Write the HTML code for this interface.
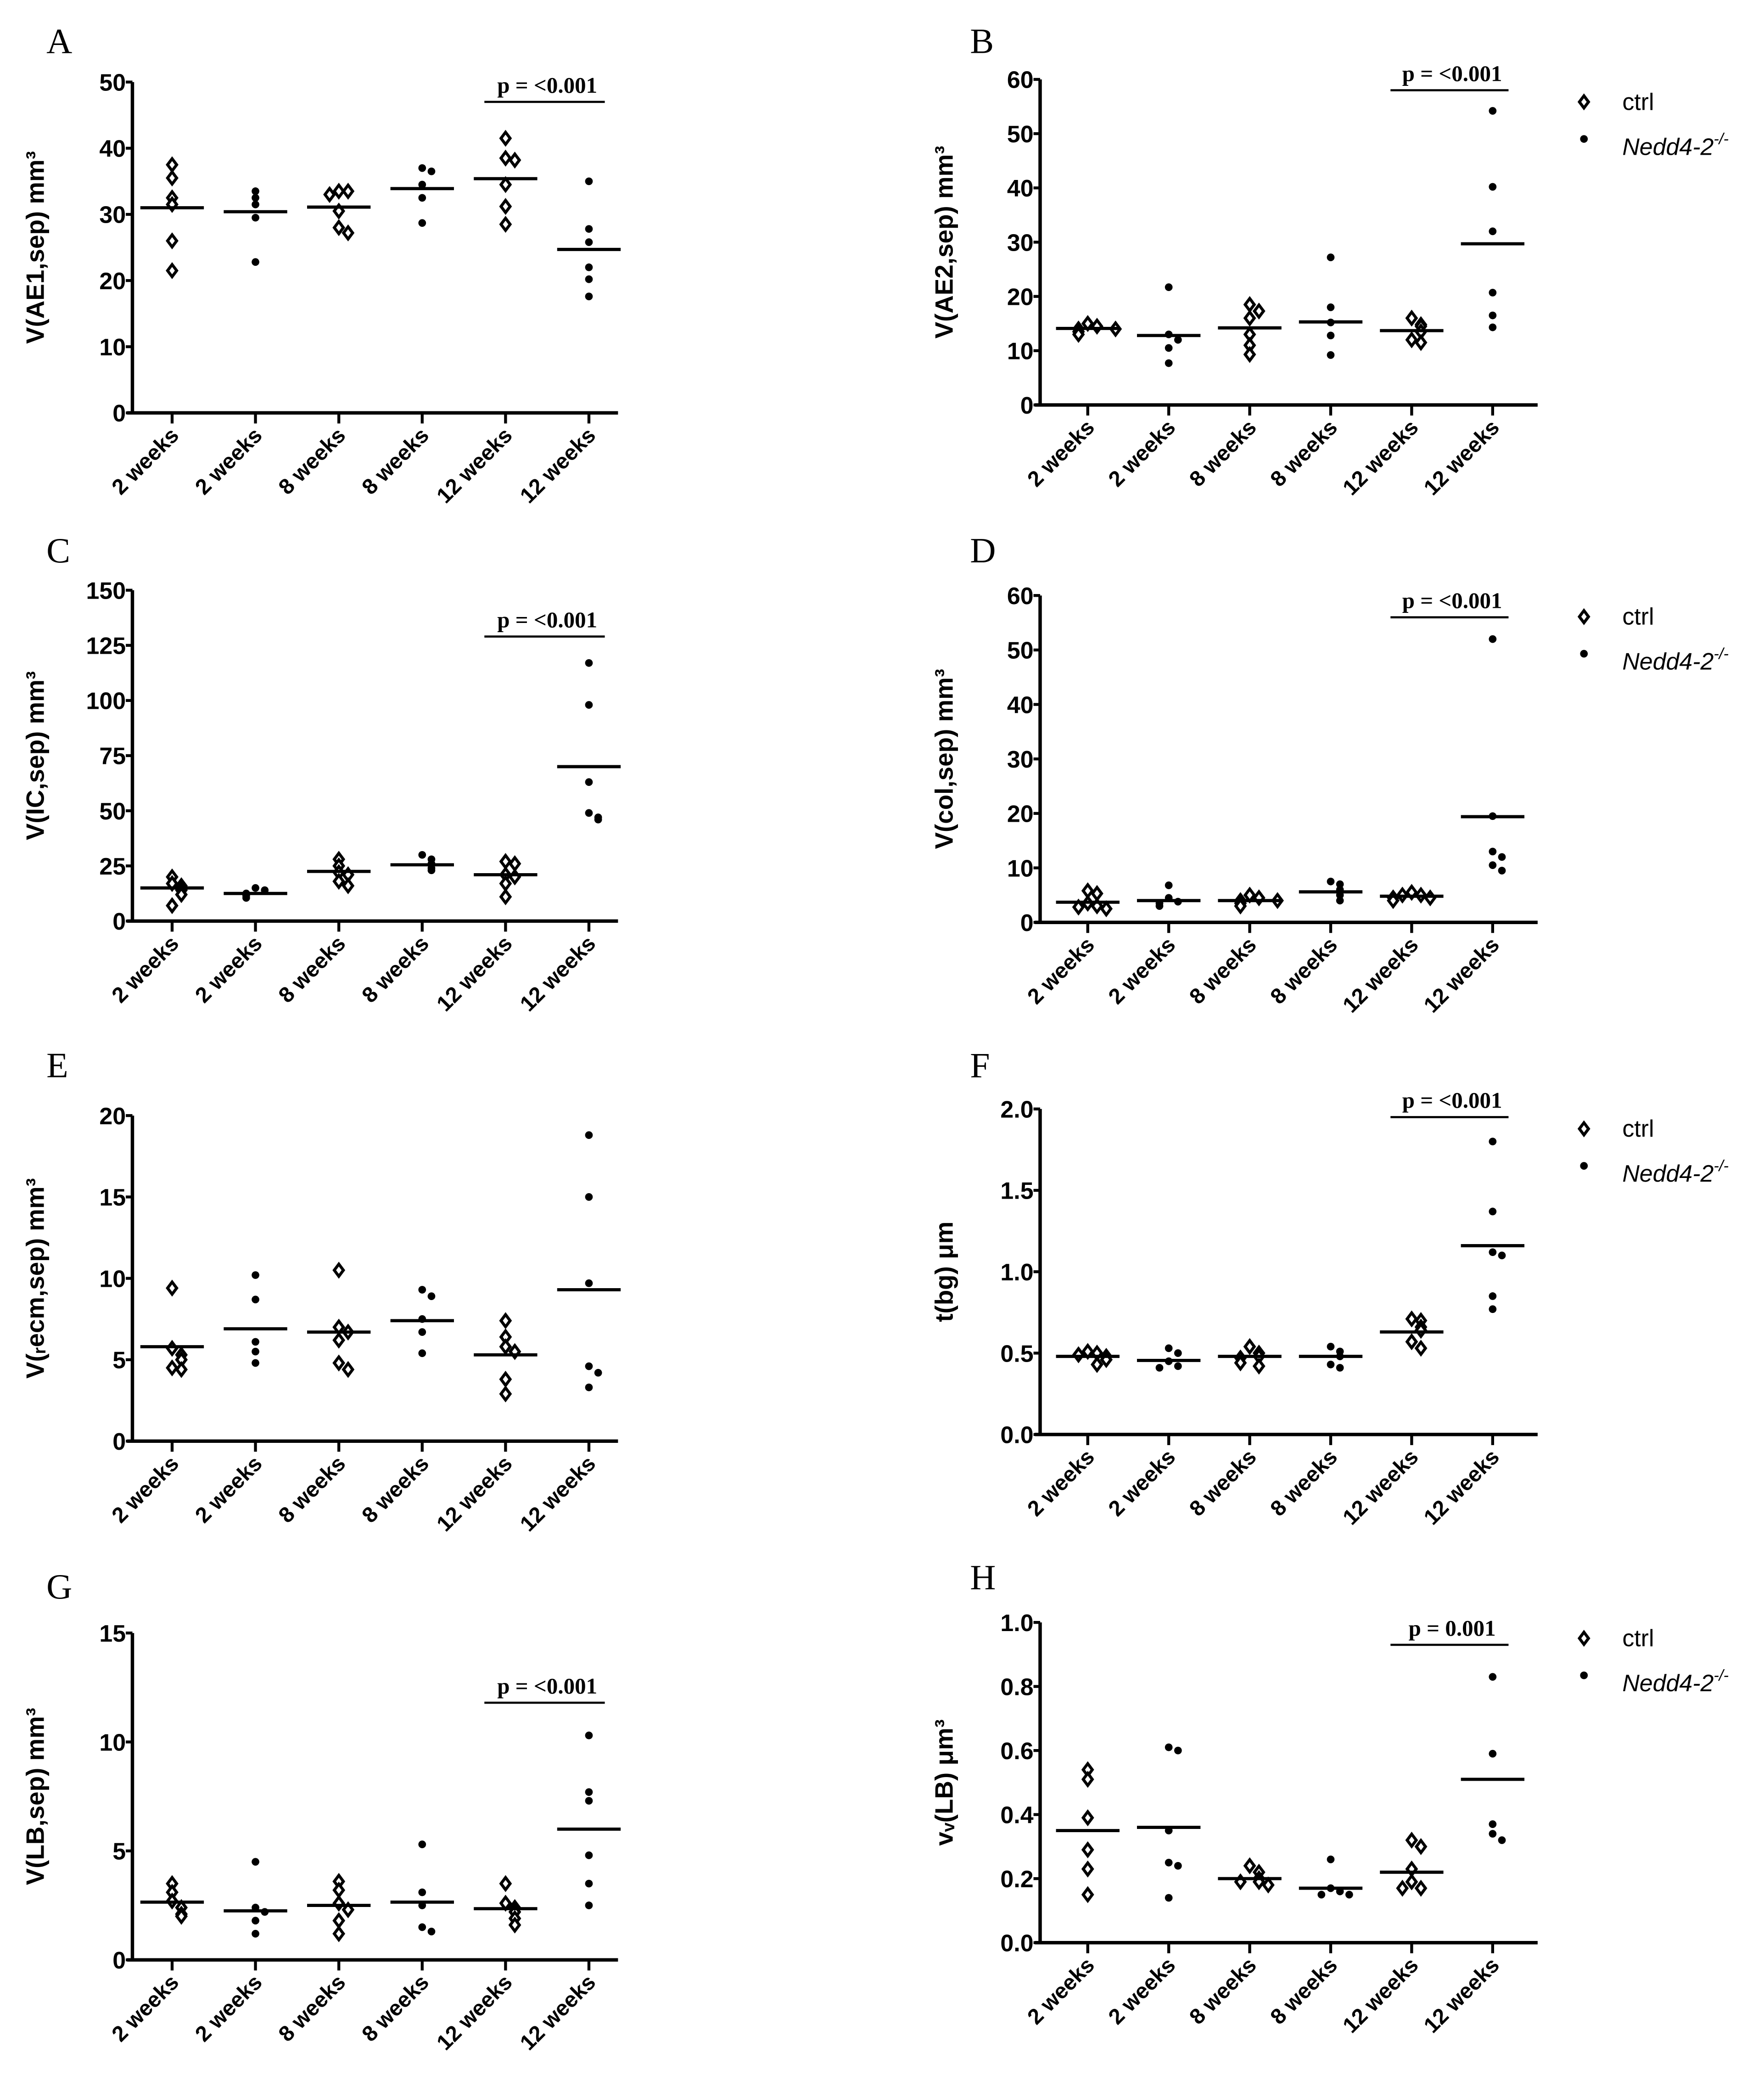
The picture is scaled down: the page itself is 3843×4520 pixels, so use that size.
<!DOCTYPE html>
<html><head><meta charset="utf-8"><style>
html,body{margin:0;padding:0;background:#fff}
svg{display:block}
.tick{font-family:"Liberation Sans Narrow","Liberation Sans",sans-serif;font-weight:bold;font-size:18px}
.xl{font-family:"Liberation Sans",sans-serif;font-weight:bold;font-size:16.5px}
.yt{font-family:"Liberation Sans",sans-serif;font-weight:bold;font-size:19px}
.pl{font-family:"Liberation Serif",serif;font-size:27px}
.pv{font-family:"Liberation Serif",serif;font-weight:bold;font-size:17px}
.lg{font-family:"Liberation Sans",sans-serif;font-size:18px}
</style></head><body>
<svg id="fig" width="3843" height="4520" viewBox="0 0 1333 1568" xmlns="http://www.w3.org/2000/svg"></svg>
<script>
const categories = ["2 weeks","2 weeks","8 weeks","8 weeks","12 weeks","12 weeks"];
const groups = ["ctrl","nedd","ctrl","nedd","ctrl","nedd"];
const panelLetters = ["A","B","C","D","E","F","G","H"];
const yTitles = ["V(AE1,sep) mm³","V(AE2,sep) mm³","V(IC,sep) mm³","V(col,sep) mm³","V(ᵣecm,sep) mm³","t(bg) μm","V(LB,sep) mm³","vᵥ(LB) μm³"];
const yMax = [50,60,150,60,20,2.0,15,1.0];
const yStep = [10,10,25,10,5,0.5,5,0.2];
const yDecimals = [0,0,0,0,0,1,0,1];
const pTexts = ["p = <0.001","p = <0.001","p = <0.001","p = <0.001",null,"p = <0.001","p = <0.001","p = 0.001"];
const pLevel = [47,58,129,56,null,1.95,11.8,0.93];
const valuesA = [[37.5,35.5,32.5,31.5,26,21.5],[33.5,32.5,31.5,29.5,22.8],[33.5,33.5,33,30.5,28,27.2],[37,36.5,34.5,32.5,28.7],[41.5,38.5,38.2,34.5,31.2,28.5],[35,27.8,25.8,22,20.2,17.6]];
const meansA = [31,30.4,31.1,33.9,35.4,24.7];
const valuesB = [[15,14.5,14,13.5,13,14],[21.7,13,12,10.5,7.7],[18.5,17.3,16,13,11,9.3],[27.2,18,15.2,12.8,9.2],[16,14.8,14.5,13.5,12,11.5],[54.2,40.2,32,20.7,16.5,14.3]];
const meansB = [14.1,12.8,14.2,15.3,13.7,29.7];
const valuesC = [[20,17,16,14,12,7],[15,14,12.5,11.5,10.5],[28,25,22,21,18,16],[30,28,26,24,23],[27,26,21,20,17,11],[117,98,63,49,47,46]];
const meansC = [15,12.5,22.5,25.5,21,70];
const valuesD = [[5.8,5.3,3.5,3,2.8,2.5],[6.8,4.5,3.8,3.5,3],[5,4.5,4,3.5,3,4],[7.5,7,6,5,4],[5.5,5,5,4.5,4.5,4],[52,19.5,13,12,10.5,9.5]];
const meansD = [3.7,4,4,5.6,4.8,19.4];
const valuesE = [[9.4,5.7,5.3,5,4.5,4.4],[10.2,8.7,6.1,5.5,4.8],[10.5,7,6.7,6.2,4.8,4.4],[9.3,8.9,7.5,6.7,5.4],[7.4,6.4,5.8,5.5,3.8,2.9],[18.8,15,9.7,4.6,4.2,3.3]];
const meansE = [5.8,6.9,6.7,7.4,5.3,9.3];
const valuesF = [[0.51,0.50,0.49,0.48,0.46,0.43],[0.53,0.50,0.45,0.42,0.41],[0.54,0.50,0.48,0.47,0.44,0.42],[0.54,0.51,0.48,0.43,0.41],[0.71,0.70,0.66,0.64,0.57,0.53],[1.80,1.37,1.12,1.10,0.85,0.77]];
const meansF = [0.48,0.455,0.48,0.48,0.63,1.16];
const valuesG = [[3.5,3.1,2.7,2.4,2.1,2.0],[4.5,2.4,2.2,1.8,1.2],[3.6,3.2,2.6,2.3,1.8,1.2],[5.3,3.1,2.5,1.5,1.3],[3.5,2.6,2.4,2.2,1.9,1.6],[10.3,7.7,7.3,4.8,3.5,2.5]];
const meansG = [2.65,2.25,2.5,2.65,2.35,6.0];
const valuesH = [[0.54,0.51,0.39,0.29,0.23,0.15],[0.61,0.60,0.35,0.25,0.24,0.14],[0.24,0.22,0.20,0.19,0.19,0.18],[0.26,0.17,0.16,0.15,0.15],[0.32,0.30,0.23,0.19,0.17,0.17],[0.83,0.59,0.37,0.34,0.32]];
const meansH = [0.35,0.36,0.2,0.17,0.22,0.51];
const allValues=[valuesA,valuesB,valuesC,valuesD,valuesE,valuesF,valuesG,valuesH];
const allMeans=[meansA,meansB,meansC,meansD,meansE,meansF,meansG,meansH];

const frames=[
 {ax:100,top:62,bot:312,right:467,c0:130,dc:63,lx:35,ly:40,tx:33,legend:null},
 {ax:786,top:60,bot:306,right:1162,c0:822,dc:61.2,lx:733,ly:40,tx:720,legend:77},
 {ax:100,top:446,bot:696,right:467,c0:130,dc:63,lx:35,ly:425,tx:33,legend:null},
 {ax:786,top:450,bot:697,right:1162,c0:822,dc:61.2,lx:733,ly:425,tx:720,legend:466},
 {ax:100,top:843,bot:1089,right:467,c0:130,dc:63,lx:35,ly:814,tx:33,legend:null},
 {ax:786,top:838,bot:1084,right:1162,c0:822,dc:61.2,lx:733,ly:814,tx:720,legend:853},
 {ax:100,top:1234,bot:1481,right:467,c0:130,dc:63,lx:35,ly:1208,tx:33,legend:null},
 {ax:786,top:1226,bot:1468,right:1162,c0:822,dc:61.2,lx:733,ly:1201,tx:720,legend:1238}
];
const NS="http://www.w3.org/2000/svg";
const svg=document.getElementById('fig');
function mk(tag,attrs,parent){const e=document.createElementNS(NS,tag);for(const k in attrs)e.setAttribute(k,attrs[k]);(parent||svg).appendChild(e);return e;}
function diamond(g,x,y){const r=4.6;return mk('path',{d:`M${x},${y-r}L${x+r*0.75},${y}L${x},${y+r}L${x-r*0.75},${y}Z`,fill:'#fff',stroke:'#000','stroke-width':2.2},g);}
function dot(g,x,y){return mk('circle',{cx:x,cy:y,r:2.9,fill:'#000'},g);}

frames.forEach((f,p)=>{
 const g=mk('g',{});
 
 
 const ys=v=>f.bot-(v/yMax[p])*(f.bot-f.top);
 const xs=i=>f.c0+i*f.dc;
 const L=mk('text',{x:f.lx,y:f.ly,'class':'pl'},g);L.textContent=panelLetters[p];
 
 
 const ya=mk('line',{x1:f.ax,y1:f.top,x2:f.ax,y2:f.bot+1,stroke:'#000','stroke-width':2.6},g);
 
 
 const xa=mk('line',{x1:f.ax-4,y1:f.bot,x2:f.right,y2:f.bot,stroke:'#000','stroke-width':2.6},g);
 
 
 const n=Math.round(yMax[p]/yStep[p]);
 for(let k=0;k<=n;k++){const v=k*yStep[p],y=ys(v);
  mk('line',{x1:f.ax-5,y1:y,x2:f.ax,y2:y,stroke:'#000','stroke-width':2.2},g);
  const t=mk('text',{x:f.ax-5,y:y+6.5,'text-anchor':'end','class':'tick'},g);t.textContent=v.toFixed(yDecimals[p]);
  
  }
 categories.forEach((c,i)=>{const x=xs(i);
  mk('line',{x1:x,y1:f.bot,x2:x,y2:f.bot+8,stroke:'#000','stroke-width':2.2},g);
  const t=mk('text',{x:x+6,y:f.bot+18,'text-anchor':'end','class':'xl',transform:`rotate(-45 ${x+6} ${f.bot+18})`},g);t.textContent=c;
  
  });
 const cy=(f.top+f.bot)/2;
 const yt=mk('text',{x:f.tx,y:cy,'text-anchor':'middle','class':'yt',transform:`rotate(-90 ${f.tx} ${cy})`},g);yt.textContent=yTitles[p];
 
 
 allValues[p].forEach((col,i)=>{
  const placed=[];
  col.forEach(v=>{const y=ys(v);let k=placed.filter(q=>Math.abs(q-y)<5).length;placed.push(y);
   const off=k===0?0:(k%2?1:-1)*Math.ceil(k/2)*7;
   const m=groups[i]==='ctrl'?diamond(g,xs(i)+off,y):dot(g,xs(i)+off,y);
   
   });
  const my=ys(allMeans[p][i]);
  const ml=mk('line',{x1:xs(i)-24,y1:my,x2:xs(i)+24,y2:my,stroke:'#000','stroke-width':2.4},g);
  
  
 });
 if(pTexts[p]){const py=ys(pLevel[p]);
  const b=mk('line',{x1:xs(4)-16,y1:py,x2:xs(5)+12,y2:py,stroke:'#000','stroke-width':1.6},g);
  
  
  const t=mk('text',{x:(xs(4)+xs(5))/2,y:py-7,'text-anchor':'middle','class':'pv'},g);t.textContent=pTexts[p];
  
  }
 if(f.legend){const lg=mk('g',{},g);
  
  
  diamond(lg,1197,f.legend);
  const t1=mk('text',{x:1226,y:f.legend+6,'class':'lg'},lg);t1.textContent='ctrl';
  dot(lg,1197,f.legend+28);
  const t2=mk('text',{x:1226,y:f.legend+40,'class':'lg','font-style':'italic'},lg);
  t2.innerHTML='Nedd4-2<tspan dy="-8" font-size="12">-/-</tspan>';}
});
</script>
</body></html>
